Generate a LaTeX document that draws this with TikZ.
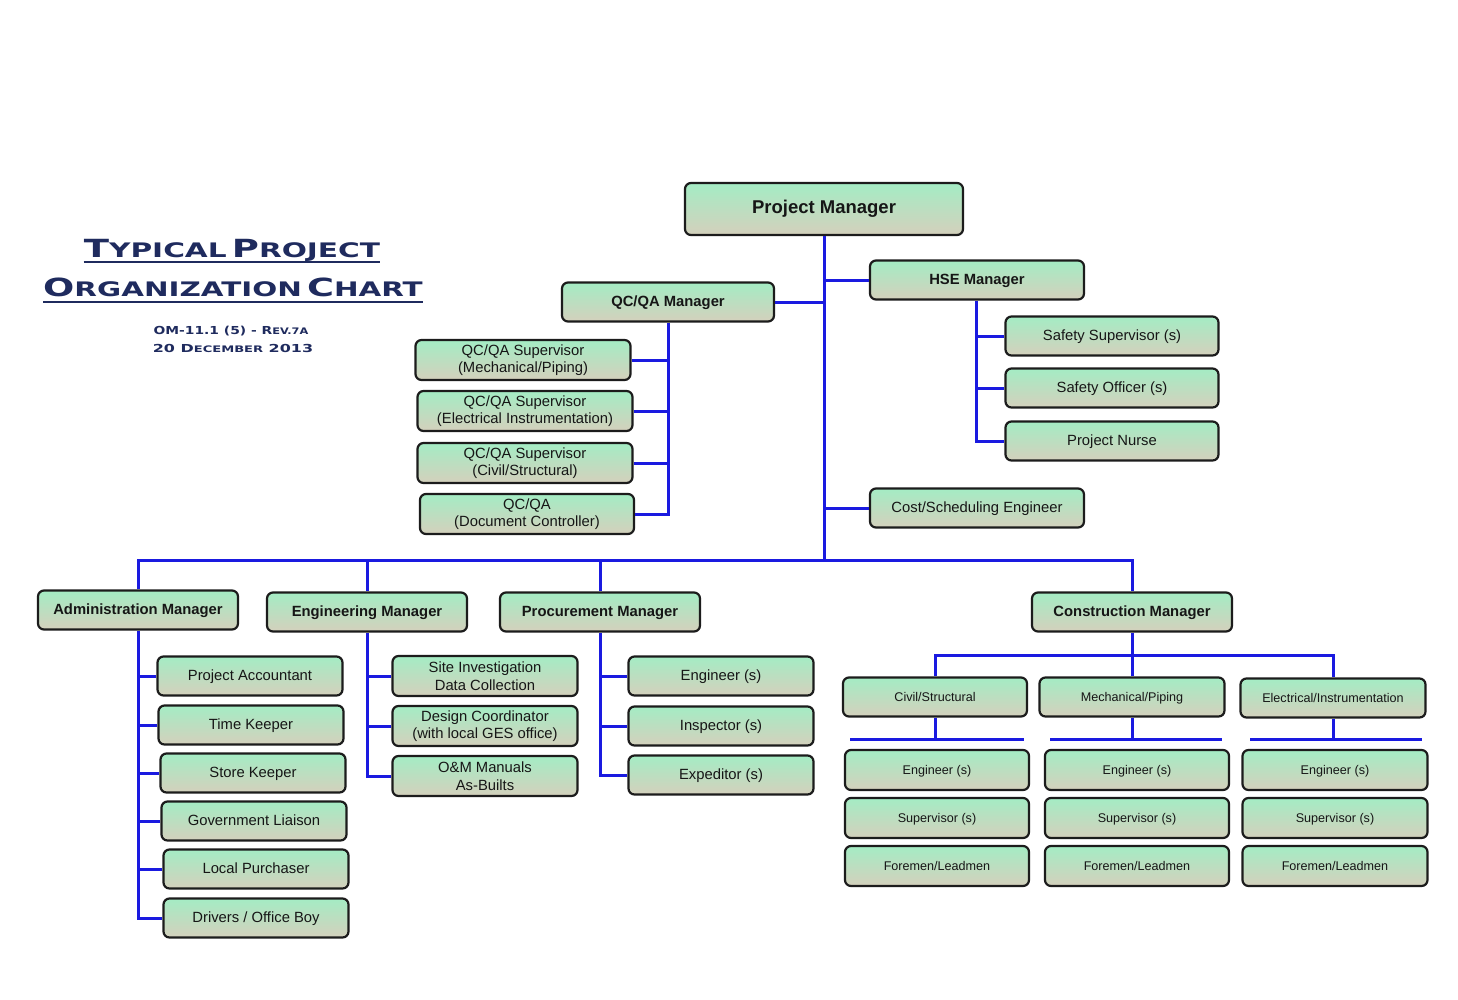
\documentclass[tikz,border=0pt]{standalone}
\usepackage{fontspec}
\usepackage{graphicx}
\setmainfont{Liberation Sans}
\newfontfamily\titlefont{DejaVu Sans}
\definecolor{navy}{HTML}{1F2B5E}
\definecolor{boxtop}{HTML}{A4ECC4}
\definecolor{boxbot}{HTML}{D4D0BC}
\definecolor{boxline}{HTML}{1C1C1C}
\definecolor{linkblue}{HTML}{1A1AE0}
\definecolor{txt}{HTML}{161616}
\newcommand{\bigc}[1]{{\fontsize{25}{25}\selectfont #1}}
\newcommand{\smc}[1]{{\fontsize{20}{20}\selectfont #1}}
\newcommand{\sbig}[1]{{\fontsize{11}{11}\selectfont #1}}
\newcommand{\ssml}[1]{{\fontsize{9}{9}\selectfont #1}}
\tikzset{
  orgbox/.style={draw=boxline, line width=2.2pt, rounded corners=6pt,
    top color=boxtop, bottom color=boxbot, inner sep=0pt, align=center,
    text=txt, font=\fontsize{14.8}{17.5}\selectfont,
    text height=1.1em, text depth=0.12em},
  twoline/.style={text height=, text depth=},
  mgr/.style={orgbox, font=\bfseries\fontsize{14.8}{17}\selectfont},
  small/.style={orgbox, font=\fontsize{12.6}{15}\selectfont},
  conn/.style={draw=linkblue, line width=3pt},
  ttl/.style={inner sep=0pt, anchor=base, text=navy, font=\titlefont\bfseries}
}
\begin{document}
\begin{tikzpicture}[x=1pt,y=-1pt]
\useasboundingbox[fill=white] (0,0) rectangle (1458,999);

% title
\node[ttl] (t1) at (232,257) {\scalebox{1.48}[1]{\bigc{T}\smc{YPICAL} \bigc{P}\smc{ROJECT}}};
\node[ttl] (t2) at (233,296) {\scalebox{1.47}[1]{\bigc{O}\smc{RGANIZATION} \bigc{C}\smc{HART}}};
\draw[navy, line width=2pt] ([yshift=-5pt]t1.base west) -- ([yshift=-5pt]t1.base east);
\draw[navy, line width=2pt] ([yshift=-6pt]t2.base west) -- ([yshift=-6pt]t2.base east);
\node[ttl] (s1) at (231,334) {\scalebox{1.26}[1]{\sbig{OM-11.1 (5) - R}\ssml{EV.7A}}};
\node[ttl] (s2) at (233,352) {\scalebox{1.45}[1]{\sbig{20 D}\ssml{ECEMBER}\sbig{ 2013}}};

% top level
\node[mgr, minimum width=278pt, minimum height=52pt, font=\bfseries\fontsize{18.5}{20}\selectfont] (pm) at (824,209) {Project Manager};
\node[mgr, minimum width=212pt, minimum height=39pt] (qcm) at (668,302) {QC/QA Manager};
\node[mgr, minimum width=214pt, minimum height=39pt] (hse) at (977,280) {HSE Manager};
\node[orgbox, minimum width=214pt, minimum height=39pt] (cse) at (977,508) {Cost/Scheduling Engineer};

% QC/QA
\node[orgbox, twoline, minimum width=215pt, minimum height=40pt] (q1) at (523,360) {QC/QA Supervisor\\(Mechanical/Piping)};
\node[orgbox, twoline, minimum width=215pt, minimum height=40pt] (q2) at (525,411) {QC/QA Supervisor\\(Electrical Instrumentation)};
\node[orgbox, twoline, minimum width=215pt, minimum height=40pt] (q3) at (525,463) {QC/QA Supervisor\\(Civil/Structural)};
\node[orgbox, twoline, minimum width=214pt, minimum height=40pt] (q4) at (527,514) {QC/QA\\(Document Controller)};

% HSE
\node[orgbox, minimum width=213pt, minimum height=39pt] (h1) at (1112,336) {Safety Supervisor (s)};
\node[orgbox, minimum width=213pt, minimum height=39pt] (h2) at (1112,388) {Safety Officer (s)};
\node[orgbox, minimum width=213pt, minimum height=39pt] (h3) at (1112,441) {Project Nurse};

% second level managers
\node[mgr, minimum width=200pt, minimum height=39pt] (adm) at (138,610) {Administration Manager};
\node[mgr, minimum width=200pt, minimum height=39pt] (eng) at (367,612) {Engineering Manager};
\node[mgr, minimum width=200pt, minimum height=39pt] (proc) at (600,612) {Procurement Manager};
\node[mgr, minimum width=200pt, minimum height=39pt] (con) at (1132,612) {Construction Manager};

% admin
\node[orgbox, minimum width=185pt, minimum height=39pt] (a1) at (250,676) {Project Accountant};
\node[orgbox, minimum width=185pt, minimum height=39pt] (a2) at (251,725) {Time Keeper};
\node[orgbox, minimum width=185pt, minimum height=39pt] (a3) at (253,773) {Store Keeper};
\node[orgbox, minimum width=185pt, minimum height=39pt] (a4) at (254,821) {Government Liaison};
\node[orgbox, minimum width=185pt, minimum height=39pt] (a5) at (256,869) {Local Purchaser};
\node[orgbox, minimum width=185pt, minimum height=39pt] (a6) at (256,918) {Drivers / Office Boy};

% engineering
\node[orgbox, twoline, minimum width=185pt, minimum height=40pt] (e1) at (485,676) {Site Investigation\\Data Collection};
\node[orgbox, twoline, minimum width=185pt, minimum height=40pt] (e2) at (485,726) {Design Coordinator\\(with local GES office)};
\node[orgbox, twoline, minimum width=185pt, minimum height=40pt] (e3) at (485,776) {O\&M Manuals\\As-Builts};

% procurement
\node[orgbox, minimum width=185pt, minimum height=39pt] (p1) at (721,676) {Engineer (s)};
\node[orgbox, minimum width=185pt, minimum height=39pt] (p2) at (721,726) {Inspector (s)};
\node[orgbox, minimum width=185pt, minimum height=39pt] (p3) at (721,775) {Expeditor (s)};

% construction
\node[small, minimum width=184pt, minimum height=39pt] (civ) at (935,697) {Civil/Structural};
\node[small, minimum width=185pt, minimum height=39pt] (mec) at (1132,697) {Mechanical/Piping};
\node[small, minimum width=185pt, minimum height=39pt] (ele) at (1333,698) {Electrical/Instrumentation};

\node[small, minimum width=184pt, minimum height=40pt] (c1) at (937,770) {Engineer (s)};
\node[small, minimum width=184pt, minimum height=40pt] (c2) at (937,818) {Supervisor (s)};
\node[small, minimum width=184pt, minimum height=40pt] (c3) at (937,866) {Foremen/Leadmen};
\node[small, minimum width=184pt, minimum height=40pt] (m1) at (1137,770) {Engineer (s)};
\node[small, minimum width=184pt, minimum height=40pt] (m2) at (1137,818) {Supervisor (s)};
\node[small, minimum width=184pt, minimum height=40pt] (m3) at (1137,866) {Foremen/Leadmen};
\node[small, minimum width=185pt, minimum height=40pt] (l1) at (1335,770) {Engineer (s)};
\node[small, minimum width=185pt, minimum height=40pt] (l2) at (1335,818) {Supervisor (s)};
\node[small, minimum width=185pt, minimum height=40pt] (l3) at (1335,866) {Foremen/Leadmen};

% connectors
\coordinate (bus) at (824,560);
\coordinate (cbus) at (1132,655);
\coordinate (civL) at (850,739);
\coordinate (civR) at (1024,739);
\coordinate (mecL) at (1050,739);
\coordinate (mecR) at (1222,739);
\coordinate (eleL) at (1250,739);
\coordinate (eleR) at (1422,739);

\draw[conn] (pm.south) -- (bus);
\draw[conn] (qcm.east) -- (qcm.east -| pm.south);
\draw[conn] (hse.west) -- (hse.west -| pm.south);
\draw[conn] (cse.west) -- (cse.west -| pm.south);

\draw[conn] (qcm.south) |- (q4.east);
\foreach \n in {q1,q2,q3} \draw[conn] (\n.east) -- (\n.east -| qcm.south);

\draw[conn] ([xshift=-1pt]hse.south) |- (h3.west);
\foreach \n in {h1,h2} \draw[conn] (\n.west) -- ([xshift=-1pt]\n.west -| hse.south);

\draw[conn] (adm.north) |- (bus) -| (con.north);
\draw[conn] (eng.north) -- (eng.north |- bus);
\draw[conn] (proc.north) -- (proc.north |- bus);

\draw[conn] (adm.south) |- (a6.west);
\foreach \n in {a1,a2,a3,a4,a5} \draw[conn] (\n.west) -- (\n.west -| adm.south);

\draw[conn] (eng.south) |- (e3.west);
\foreach \n in {e1,e2} \draw[conn] (\n.west) -- (\n.west -| eng.south);

\draw[conn] (proc.south) |- (p3.west);
\foreach \n in {p1,p2} \draw[conn] (\n.west) -- (\n.west -| proc.south);

\draw[conn] (con.south) -- (cbus);
\draw[conn] (civ.north) |- (cbus) -| (ele.north);
\draw[conn] (mec.north) -- (mec.north |- cbus);

\draw[conn] (civL) -- (civR);
\draw[conn] (civ.south) -- (civ.south |- civL);
\draw[conn] (mecL) -- (mecR);
\draw[conn] (mec.south) -- (mec.south |- mecL);
\draw[conn] (eleL) -- (eleR);
\draw[conn] (ele.south) -- (ele.south |- eleL);
\end{tikzpicture}
\end{document}
